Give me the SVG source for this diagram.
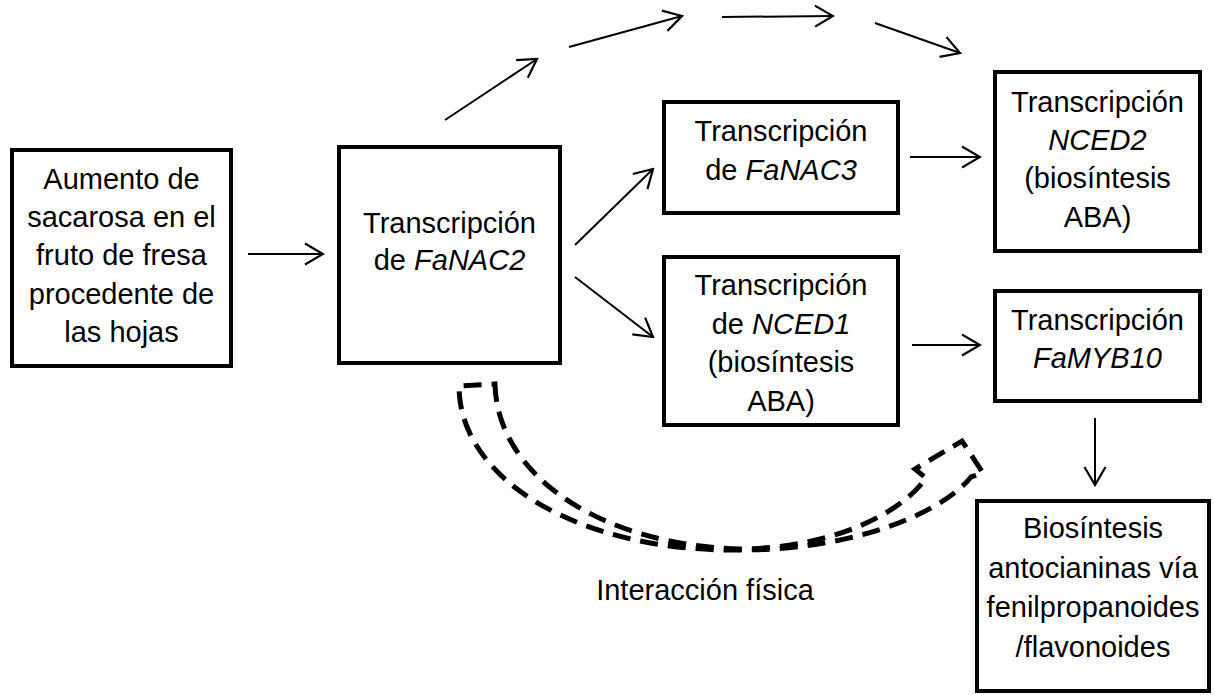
<svg xmlns="http://www.w3.org/2000/svg" width="1214" height="695" viewBox="0 0 1214 695">
<style>
.box{fill:#fff;stroke:#000;stroke-width:4}
.t{font-family:"Liberation Sans",Arial,sans-serif;font-size:29px;fill:#000;text-anchor:middle}
.i{font-style:italic}
.arr{stroke:#000;stroke-width:2;fill:none;marker-end:url(#ah)}
.dash{stroke:#000;stroke-width:5;fill:none;stroke-dasharray:18 10;stroke-linejoin:miter}
</style>
<defs>
<marker id="ah" markerUnits="userSpaceOnUse" viewBox="0 0 22 24" refX="20" refY="12" markerWidth="22" markerHeight="24" orient="auto">
<path d="M2,1.5 L20,12 L2,22.5" fill="none" stroke="#000" stroke-width="2.2"/>
</marker>
</defs>
<rect width="1214" height="695" fill="#fff"/>
<g id="connectors">
<line class="arr" x1="248" y1="254" x2="323" y2="254"/>
<line class="arr" x1="575" y1="245" x2="653" y2="169"/>
<line class="arr" x1="575" y1="277" x2="653" y2="337"/>
<line class="arr" x1="910" y1="157" x2="980" y2="157"/>
<line class="arr" x1="912" y1="345" x2="980" y2="345"/>
<line class="arr" x1="1095" y1="418" x2="1095" y2="485"/>
<line class="arr" x1="445" y1="120" x2="537" y2="59"/>
<line class="arr" x1="569" y1="47" x2="682" y2="16"/>
<line class="arr" x1="722" y1="17" x2="833" y2="16"/>
<line class="arr" x1="875" y1="23" x2="960" y2="53"/>
<path class="dash" d="M495,384 C497,475 600,545 740,549 C830,548 900,515 926,478 L915,469 L962,441 L983,473 L971,477 C945,510 860,550 740,550 C580,552 459,480 459,386 Z"/>
<text class="t" x="705" y="600">Interacción física</text>
</g>
<g id="n1">
<rect class="box" x="12" y="150" width="219" height="216"/>
<text class="t" x="121.5" y="189">Aumento de</text>
<text class="t" x="121.5" y="227">sacarosa en el</text>
<text class="t" x="121.5" y="265">fruto de fresa</text>
<text class="t" x="121.5" y="304">procedente de</text>
<text class="t" x="121.5" y="342">las hojas</text>
</g>
<g id="n2">
<rect class="box" x="339" y="147" width="221" height="216"/>
<text class="t" x="449.5" y="233">Transcripción</text>
<text class="t" x="449.5" y="270">de <tspan class="i">FaNAC2</tspan></text>
</g>
<g id="n3">
<rect class="box" x="664" y="102" width="234" height="111"/>
<text class="t" x="781" y="141">Transcripción</text>
<text class="t" x="781" y="180">de <tspan class="i">FaNAC3</tspan></text>
</g>
<g id="n4">
<rect class="box" x="664" y="257" width="234" height="168"/>
<text class="t" x="781" y="295">Transcripción</text>
<text class="t" x="781" y="333.5">de <tspan class="i">NCED1</tspan></text>
<text class="t" x="781" y="372">(biosíntesis</text>
<text class="t" x="781" y="410.5">ABA)</text>
</g>
<g id="n5">
<rect class="box" x="995" y="72" width="205" height="179"/>
<text class="t" x="1097.5" y="112">Transcripción</text>
<text class="t i" x="1097.5" y="150">NCED2</text>
<text class="t" x="1097.5" y="188">(biosíntesis</text>
<text class="t" x="1097.5" y="227">ABA)</text>
</g>
<g id="n6">
<rect class="box" x="995" y="291" width="205" height="110"/>
<text class="t" x="1097.5" y="330">Transcripción</text>
<text class="t i" x="1097.5" y="368">FaMYB10</text>
</g>
<g id="n7">
<rect class="box" x="977" y="501" width="232" height="190"/>
<text class="t" x="1093" y="538">Biosíntesis</text>
<text class="t" x="1093" y="578">antocianinas vía</text>
<text class="t" x="1093" y="617">fenilpropanoides</text>
<text class="t" x="1093" y="657">/flavonoides</text>
</g>
</svg>
